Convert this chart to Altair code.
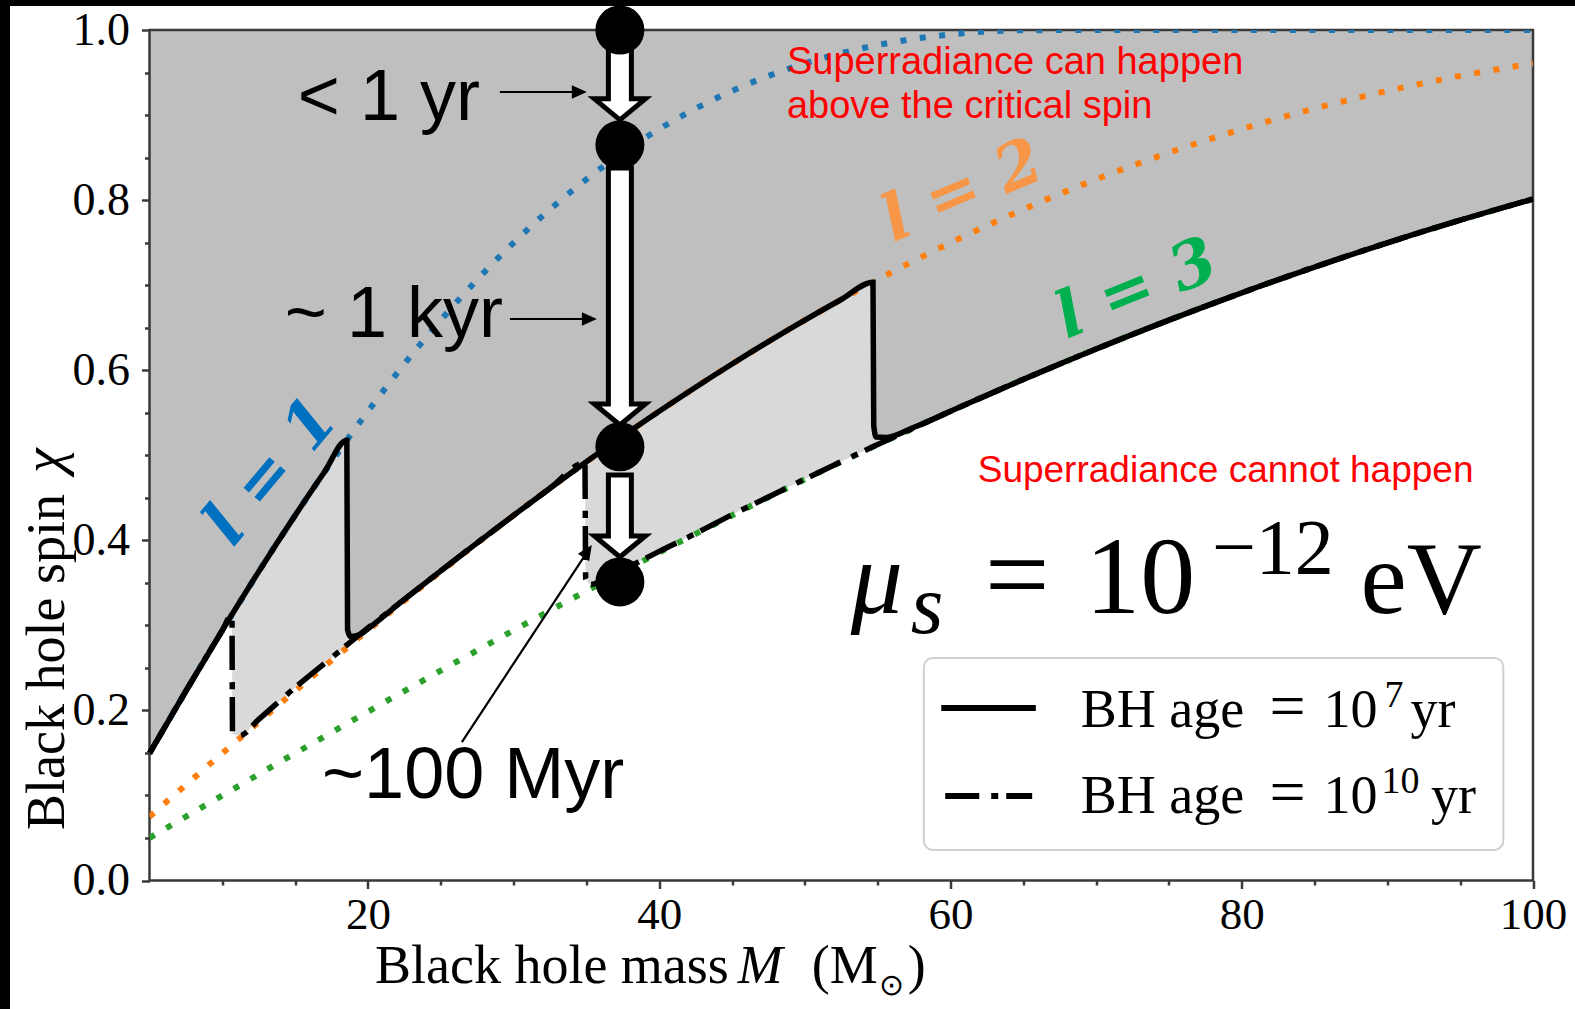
import math

import altair as alt
import pandas as pd

# ---------------------------------------------------------------------------
# Critical spin for superradiance, l = 1, 2, 3  (mu_s = 1e-12 eV)
# ---------------------------------------------------------------------------
mass_grid = [5, 10, 15, 20, 25, 30, 35, 40, 45, 50, 55, 60, 65, 70, 75, 80, 85, 90, 95, 100]
spin_l1 = [0.1496, 0.2941, 0.4293, 0.5517, 0.6589, 0.7498, 0.8244, 0.8835, 0.9284, 0.9607,
           0.9823, 0.9948, 0.9997, 1.0, 1.0, 1.0, 1.0, 1.0, 1.0, 1.0]
spin_l2 = [0.0751, 0.1496, 0.2228, 0.2941, 0.3632, 0.4293, 0.4923, 0.5517, 0.6073, 0.6589,
           0.7064, 0.7498, 0.7891, 0.8244, 0.8558, 0.8835, 0.9076, 0.9284, 0.9460, 0.9607]
spin_l3 = [0.0501, 0.1000, 0.1496, 0.1985, 0.2468, 0.2941, 0.3404, 0.3856, 0.4293, 0.4717,
           0.5125, 0.5517, 0.5892, 0.6249, 0.6589, 0.6910, 0.7213, 0.7498, 0.7764, 0.8013]

# Spin left after 1e7 yr (solid) and 1e10 yr (dash-dot)
young_mass = [5, 7.5, 10, 12.5, 15, 17, 18.55, 18.6, 18.8, 19.5, 20, 22.5, 25, 27.5, 30, 32.5,
              35, 37.5, 40, 42.5, 45, 47.5, 50, 52.5, 54.68, 54.73, 54.9, 55.6, 57.5, 60, 65,
              70, 75, 80, 85, 90, 95, 100]
young_spin = [0.1496, 0.2228, 0.2941, 0.3632, 0.4293, 0.4800, 0.5177, 0.2950, 0.2868, 0.2895,
              0.2960, 0.3305, 0.3640, 0.3970, 0.4293, 0.4612, 0.4923, 0.5225, 0.5517, 0.5800,
              0.6073, 0.6336, 0.6589, 0.6831, 0.7034, 0.5350, 0.5215, 0.5210, 0.5330, 0.5517,
              0.5892, 0.6249, 0.6589, 0.6910, 0.7213, 0.7498, 0.7764, 0.8013]
old_mass = [5, 7.5, 10, 10.66, 10.7, 11.2, 12.5, 15, 17.5, 20, 22.5, 25, 27.5, 30, 32.5, 34.9,
            34.95, 35.3, 36, 37.5, 40, 42.5, 45, 47.5, 50, 52.5, 55, 60, 65, 70, 75, 80, 85,
            90, 95, 100]
old_spin = [0.1496, 0.2228, 0.2941, 0.3126, 0.1720, 0.1705, 0.1895, 0.2270, 0.2620, 0.2970,
            0.3305, 0.3640, 0.3970, 0.4293, 0.4612, 0.4911, 0.3550, 0.3480, 0.3520, 0.3650,
            0.3870, 0.4080, 0.4300, 0.4510, 0.4720, 0.4925, 0.5125, 0.5517, 0.5892, 0.6249,
            0.6589, 0.6910, 0.7213, 0.7498, 0.7764, 0.8013]

# Evolution of one black hole (mass held fixed) and its time scales
track_mass = 37.3
track_spin = [1.0, 0.865, 0.51, 0.351]
step_top = [0.9953, 0.8378, 0.4768]
step_tip = [0.8944, 0.5356, 0.3804]
time_labels = ["< 1 yr", "~ 1 kyr", "~100 Myr"]
pointer_from = [(29.06, 0.9271), (29.75, 0.6602), (26.45, 0.1628)]
pointer_to = [(35.03, 0.9271), (35.72, 0.6602), (35.37, 0.3945)]

# ---------------------------------------------------------------------------
# Layout and style
# ---------------------------------------------------------------------------
W, H = 1383.5, 850.5
PAD = {"left": 149.5, "top": 30, "right": 42, "bottom": 128.5}
PX_PER_M = W / 95.0
SERIF = "Liberation Serif"
SANS = "Liberation Sans"
MATH = "DejaVu Serif"
GREY = "#3a3a3a"
DARK_FILL = "#bfbfbf"
LIGHT_FILL = "#d9d9d9"
C1, C2, C3 = "#1f77b4", "#ff7f0e", "#2ca02c"

xs = alt.Scale(domain=[5, 100], nice=False, zero=False)
ys = alt.Scale(domain=[0, 1], nice=False, zero=False)


def X(field, axis=None):
    return alt.X(field, type="quantitative", scale=xs, axis=axis)


def Y(field, axis=None):
    return alt.Y(field, type="quantitative", scale=ys, axis=axis)


x_major = alt.Axis(orient="bottom", values=[20, 40, 60, 80, 100], format="d", domain=False,
                   grid=False, tickSize=8, tickWidth=2.5, tickColor=GREY, labelFont=SERIF,
                   labelFontSize=45, labelColor="black", labelPadding=4, labelFlush=False,
                   labelOverlap=False, title=None, zindex=1)
y_major = alt.Axis(orient="left", values=[0, 0.2, 0.4, 0.6, 0.8, 1.0], format=".1f",
                   domain=False, grid=False, tickSize=8, tickWidth=2.5, tickColor=GREY,
                   labelFont=SERIF, labelFontSize=46, labelColor="black", labelPadding=12,
                   labelFlush=False, labelOverlap=False, title=None, zindex=1)
x_minor = alt.Axis(orient="bottom", values=[10, 15, 25, 30, 35, 45, 50, 55, 65, 70, 75, 85, 90, 95],
                   labels=False, domain=False, grid=False, tickSize=4.5, tickWidth=2.5,
                   tickColor=GREY, title=None, zindex=1)
y_minor = alt.Axis(orient="left",
                   values=[0.05, 0.1, 0.15, 0.25, 0.3, 0.35, 0.45, 0.5, 0.55, 0.65, 0.7, 0.75,
                           0.85, 0.9, 0.95],
                   labels=False, domain=False, grid=False, tickSize=5, tickWidth=2.5,
                   tickColor=GREY, title=None, zindex=1)

crit = pd.DataFrame({"M": mass_grid, "l1": spin_l1, "l2": spin_l2, "l3": spin_l3})
young = pd.DataFrame({"M": young_mass, "chi": young_spin, "top": 1.0})
old = pd.DataFrame({"M": old_mass, "chi": old_spin, "top": 1.0})

layers = []

# Regions: light grey between the two ages, dark grey above the 1e7 yr curve
layers.append(alt.Chart(old).mark_area(color=LIGHT_FILL, opacity=1, interpolate="monotone").encode(
    x=X("M", x_minor), y=Y("chi", y_minor), y2="top"))
layers.append(alt.Chart(young).mark_area(color=DARK_FILL, opacity=1, interpolate="monotone").encode(
    x=X("M", x_major), y=Y("chi", y_major), y2="top"))

# Plot frame
frame = pd.DataFrame({"M0": [5], "M1": [100], "c0": [0.0], "c1": [1.0]})
layers.append(alt.Chart(frame).mark_rect(fillOpacity=0, stroke=GREY, strokeWidth=2.5).encode(
    x=X("M0"), x2="M1", y=Y("c0"), y2="c1"))

# Critical spin curves
for col, colour in (("l1", C1), ("l2", C2), ("l3", C3)):
    layers.append(alt.Chart(crit).mark_line(color=colour, strokeWidth=6, strokeDash=[6, 13.5],
                                            strokeCap="butt", interpolate="monotone", clip=True)
                  .encode(x=X("M"), y=Y(col)))

# Spin after 1e10 yr and after 1e7 yr
layers.append(alt.Chart(old).mark_line(color="black", strokeWidth=5.5, strokeDash=[34, 12, 7, 8],
                                       interpolate="monotone").encode(x=X("M"), y=Y("chi")))
layers.append(alt.Chart(young).mark_line(color="black", strokeWidth=5.5, interpolate="monotone")
              .encode(x=X("M"), y=Y("chi")))


def text_layer(rows, baseline="alphabetic", **mark):
    df = pd.DataFrame(rows, columns=["M", "chi", "t"])
    return alt.Chart(df).mark_text(baseline=baseline, **mark).encode(
        x=X("M"), y=Y("chi"), text="t:N")


# l labels
layers.append(text_layer([(13.41, 0.480, "l = 1")], font=MATH, fontSize=64, fontWeight="bold",
                         fontStyle="italic", color="#0070c0", angle=310, align="center",
                         baseline="middle"))
layers.append(text_layer([(60.84, 0.8095, "l = 2")], font=MATH, fontSize=64, fontWeight="bold",
                         fontStyle="italic", color="#f79646", angle=337, align="center",
                         baseline="middle"))
layers.append(text_layer([(72.79, 0.6943, "l = 3")], font=MATH, fontSize=64, fontWeight="bold",
                         fontStyle="italic", color="#00b050", angle=338, align="center",
                         baseline="middle"))

# Red region captions
layers.append(text_layer([(48.77, 0.9483, "Superradiance can happen"),
                          (48.77, 0.8966, "above the critical spin")],
                         font=SANS, fontSize=38, color="#ff0000", align="left"))
layers.append(text_layer([(61.87, 0.4685, "Superradiance cannot happen")],
                         font=SANS, fontSize=37, color="#ff0000", align="left"))

# Time-scale labels
layers.append(text_layer([(27.69, 0.894, time_labels[0]), (29.27, 0.639, time_labels[1])],
                         font=SANS, fontSize=72, color="black", align="right"))
layers.append(text_layer([(16.85, 0.097, time_labels[2])],
                         font=SANS, fontSize=72, color="black", align="left"))

# Thin pointer arrows
HEAD = 15.0
rules, heads = [], []
for (m0, c0), (m1, c1) in zip(pointer_from, pointer_to):
    dx, dy = (m1 - m0) * PX_PER_M, -(c1 - c0) * H
    n = (dx * dx + dy * dy) ** 0.5
    ux, uy = dx / n, dy / n
    end_m, end_c = m1 - ux * (HEAD - 2) / PX_PER_M, c1 + uy * (HEAD - 2) / H
    hm, hc = m1 - ux * HEAD / 2 / PX_PER_M, c1 + uy * HEAD / 2 / H
    ang = (math.degrees(math.atan2(dy, dx)) + 360) % 360
    rules.append({"M0": m0, "c0": c0, "M1": end_m, "c1": end_c})
    heads.append({"M": hm, "chi": hc, "a": ang})
layers.append(alt.Chart(pd.DataFrame(rules)).mark_rule(color="black", strokeWidth=2.2).encode(
    x=X("M0"), x2="M1", y=Y("c0"), y2="c1"))
layers.append(alt.Chart(pd.DataFrame(heads)).mark_point(
    shape="M-1,-0.9L1,0L-1,0.9Z", size=HEAD * HEAD, filled=True, color="black", opacity=1).encode(
    x=X("M"), y=Y("chi"), angle=alt.Angle("a:Q", scale=None)))


# Hollow block arrows along the evolution track
def block_arrow(length, shaft_half=11.5, head_half=25.5, head_len=21.0):
    u = length / 2.0
    s, h, b = shaft_half / u, head_half / u, 1 - head_len / u
    return (f"M{-s:.4f},-1L{s:.4f},-1L{s:.4f},{b:.4f}L{h:.4f},{b:.4f}L0,1"
            f"L{-h:.4f},{b:.4f}L{-s:.4f},{b:.4f}Z")


for top, tip in zip(step_top, step_tip):
    length = (top - tip) * H
    df = pd.DataFrame({"M": [track_mass], "chi": [(top + tip) / 2]})
    layers.append(alt.Chart(df).mark_point(shape=block_arrow(length), size=length * length,
                                           filled=True, fill="white", stroke="black",
                                           strokeWidth=5, opacity=1, strokeJoin="miter")
                  .encode(x=X("M"), y=Y("chi")))

# Evolution states
layers.append(alt.Chart(pd.DataFrame({"M": [track_mass] * 4, "chi": track_spin}))
              .mark_circle(size=2400, color="black", opacity=1).encode(x=X("M"), y=Y("chi")))

# Boson mass statement
layers.append(text_layer([(53.15, 0.3145, "μ")], font=SERIF, fontSize=104, fontStyle="italic",
                         color="black", align="left"))
layers.append(text_layer([(57.27, 0.291, "s")], font=SERIF, fontSize=84, fontStyle="italic",
                         color="black", align="left"))
layers.append(text_layer([(62.35, 0.3145, "=")], font=SERIF, fontSize=115, color="black",
                         align="left"))
layers.append(text_layer([(69.25, 0.3145, "10")], font=SERIF, fontSize=110, color="black",
                         align="left"))
layers.append(text_layer([(88.16, 0.3145, "eV")], font=SERIF, fontSize=104, color="black",
                         align="left"))
layers.append(text_layer([(77.95, 0.3616, "−12")], font=SERIF, fontSize=78, color="black",
                         align="left"))

# Legend
box = pd.DataFrame({"M0": [58.17], "M1": [97.96], "c0": [0.0359], "c1": [0.2616]})
layers.append(alt.Chart(box).mark_rect(cornerRadius=9, fill="white", fillOpacity=0.85,
                                       stroke="#d0d0d0", strokeWidth=2).encode(
    x=X("M0"), x2="M1", y=Y("c0"), y2="c1"))
samples = pd.DataFrame({"M0": [59.37, 59.64], "M1": [65.86, 65.61], "c": [0.2028, 0.0994],
                        "age": ["1e7", "1e10"]})
layers.append(alt.Chart(samples[samples.age == "1e7"]).mark_rule(color="black", strokeWidth=6)
              .encode(x=X("M0"), x2="M1", y=Y("c")))
layers.append(alt.Chart(samples[samples.age == "1e10"]).mark_rule(
    color="black", strokeWidth=6, strokeDash=[34, 12, 7, 8], strokeCap="butt")
    .encode(x=X("M0"), x2="M1", y=Y("c")))
layers.append(text_layer([(68.94, 0.1805, "BH age"), (85.62, 0.1805, "10"),
                          (91.59, 0.1805, "yr"),
                          (68.94, 0.0794, "BH age"), (85.62, 0.0794, "10"),
                          (93.00, 0.0794, "yr")],
                         font=SERIF, fontSize=54, color="black", align="left"))
layers.append(text_layer([(81.90, 0.1805, "="), (81.90, 0.0794, "=")],
                         font=SERIF, fontSize=64, color="black", align="left"))
layers.append(text_layer([(89.81, 0.2040, "7"), (89.60, 0.1029, "10")],
                         font=SERIF, fontSize=38, color="black", align="left"))

# Axis titles
layers.append(text_layer([(20.48, -0.121, "Black hole mass"), (50.48, -0.121, "(M"),
                          (57.07, -0.121, ")")],
                         font=SERIF, fontSize=54, color="black", align="left"))
layers.append(text_layer([(45.39, -0.121, "M")], font=SERIF, fontSize=54, fontStyle="italic",
                         color="black", align="left"))
layers.append(text_layer([(55.08, -0.135, "⊙")], font=SERIF, fontSize=30, color="black",
                         align="left"))
layers.append(text_layer([(-0.869, 0.0594, "Black hole spin")], font=SERIF, fontSize=54,
                         color="black", align="left", angle=270))
layers.append(text_layer([(-1.0, 0.4791, "χ")], font=SERIF, fontSize=56, fontStyle="italic",
                         color="black", align="left", angle=270))

# Dark edges along the top and left of the figure
edge = pd.DataFrame({"k": [0]})
layers.append(alt.Chart(edge).mark_rect(color="black", opacity=1).encode(
    x=alt.value(-PAD["left"]), x2=alt.value(-PAD["left"] + 10),
    y=alt.value(-PAD["top"]), y2=alt.value(H + PAD["bottom"])))
layers.append(alt.Chart(edge).mark_rect(color="black", opacity=1).encode(
    x=alt.value(-PAD["left"]), x2=alt.value(W + PAD["right"]),
    y=alt.value(-PAD["top"]), y2=alt.value(-PAD["top"] + 6)))

chart = (
    alt.layer(*layers)
    .resolve_axis(x="independent", y="independent")
    .properties(width=W, height=H, autosize=alt.AutoSizeParams(type="none"), padding=PAD,
                background="white")
    .configure_view(strokeWidth=0)
)

chart.save("out.html", embed_options={"renderer": "svg", "actions": False})
